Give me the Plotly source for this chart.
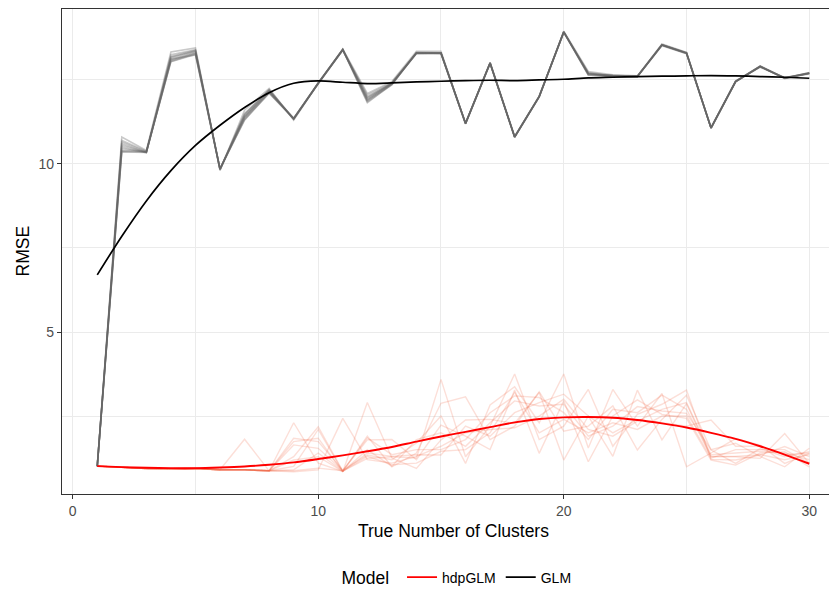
import plotly.graph_objects as go

x_clusters = list(range(1, 31))

# GLM runs (grey lines)
glm_runs = [
    [1.01,10.80,10.40,13.33,13.45,9.80,11.60,12.25,11.30,12.40,13.42,12.10,12.45,13.35,13.35,11.20,13.02,10.80,12.00,13.95,12.75,12.65,12.62,13.57,13.32,11.07,12.45,12.92,12.55,12.72],
    [1.01,10.70,10.38,13.25,13.40,9.85,11.50,12.20,11.35,12.42,13.40,12.00,12.40,13.30,13.30,11.22,13.00,10.82,12.02,13.92,12.70,12.62,12.60,13.55,13.30,11.08,12.47,12.90,12.57,12.70],
    [1.00,10.65,10.36,13.20,13.38,9.83,11.45,12.18,11.33,12.40,13.38,11.95,12.38,13.28,13.28,11.20,12.98,10.80,12.00,13.93,12.68,12.60,12.60,13.52,13.28,11.06,12.45,12.88,12.55,12.68],
    [1.01,10.60,10.34,13.15,13.35,9.86,11.40,12.15,11.36,12.38,13.40,11.90,12.36,13.30,13.30,11.21,13.01,10.81,12.01,13.91,12.66,12.61,12.59,13.54,13.30,11.07,12.44,12.90,12.54,12.70],
    [1.00,10.55,10.35,13.10,13.32,9.84,11.35,12.12,11.34,12.41,13.41,11.85,12.35,13.32,13.31,11.19,12.99,10.79,11.99,13.94,12.65,12.62,12.61,13.53,13.29,11.08,12.46,12.89,12.56,12.69],
    [1.01,10.50,10.33,13.08,13.30,9.85,11.32,12.10,11.35,12.39,13.39,11.82,12.37,13.29,13.29,11.20,13.00,10.80,12.00,13.92,12.64,12.60,12.60,13.55,13.31,11.07,12.45,12.91,12.55,12.71],
    [1.00,10.45,10.36,13.05,13.28,9.86,11.30,12.12,11.36,12.40,13.40,11.88,12.39,13.31,13.30,11.21,13.01,10.81,12.01,13.93,12.67,12.63,12.61,13.54,13.30,11.06,12.44,12.90,12.56,12.70],
    [1.01,10.40,10.37,13.04,13.26,9.84,11.38,12.16,11.34,12.41,13.41,11.92,12.41,13.30,13.31,11.20,13.00,10.80,12.00,13.92,12.69,12.61,12.60,13.53,13.29,11.07,12.45,12.89,12.55,12.69],
    [1.00,10.38,10.35,13.12,13.24,9.85,11.42,12.18,11.35,12.40,13.40,11.98,12.40,13.29,13.30,11.20,13.00,10.81,12.00,13.93,12.70,12.62,12.61,13.54,13.30,11.07,12.46,12.90,12.55,12.70],
    [1.01,10.36,10.34,13.18,13.36,9.83,11.48,12.22,11.33,12.39,13.39,12.05,12.42,13.31,13.29,11.21,13.01,10.80,12.01,13.92,12.72,12.63,12.60,13.55,13.31,11.08,12.45,12.91,12.56,12.71],
]

# hdpGLM runs (light red lines)
hdp_runs = [
    [1.01,0.97,0.94,0.93,0.94,0.90,1.81,0.87,1.29,2.18,0.86,1.24,1.29,1.25,3.59,1.29,2.20,3.75,1.80,2.20,3.29,1.60,2.55,2.85,3.27,1.21,1.19,1.34,1.59,1.29],
    [1.01,0.97,0.94,0.93,0.94,0.89,0.90,0.87,2.30,1.10,0.85,1.90,0.99,1.40,2.88,3.07,1.80,2.20,3.22,2.05,2.20,2.80,1.49,2.40,3.12,1.49,1.09,1.53,1.29,1.44],
    [1.01,0.97,0.94,0.93,0.94,0.90,0.90,0.87,1.84,1.74,0.89,1.34,1.20,1.70,2.50,1.09,2.83,3.37,2.30,3.75,1.55,3.29,2.20,3.17,0.99,1.40,1.83,1.63,1.09,1.39],
    [1.01,0.97,0.94,0.93,0.94,0.90,0.90,0.87,1.74,1.84,0.84,2.90,1.25,0.94,1.79,2.38,2.40,2.28,3.20,1.19,2.50,1.30,3.27,1.79,2.87,1.29,1.29,1.24,1.98,1.09],
    [1.01,0.97,0.94,0.93,0.94,0.90,0.90,0.87,1.64,1.54,0.88,1.79,1.80,1.20,2.23,1.90,1.50,3.27,1.39,2.95,1.14,2.50,2.98,2.55,2.43,1.19,1.04,1.40,1.44,0.99],
    [1.01,0.97,0.94,0.93,0.94,0.90,0.90,0.87,1.19,1.29,0.85,1.50,1.00,1.80,2.00,1.60,2.30,2.95,2.80,2.85,1.90,2.20,2.78,2.65,2.58,1.50,1.69,1.30,0.99,1.54],
    [1.01,0.97,0.94,0.93,0.94,0.90,0.90,0.87,0.84,0.90,2.43,1.20,1.10,1.30,1.60,2.00,2.10,2.15,2.50,3.00,2.10,1.90,2.35,2.70,2.90,1.35,1.40,1.45,1.40,1.20],
    [1.01,0.97,0.94,0.93,0.94,0.90,0.90,0.87,0.87,0.95,0.87,1.85,1.35,1.50,1.50,1.80,2.60,3.10,3.05,2.60,1.80,2.70,2.60,3.12,2.70,1.30,1.30,1.35,1.20,1.35],
    [1.01,0.97,0.94,0.93,0.94,0.90,0.90,0.87,0.90,1.40,0.86,1.30,1.05,1.10,1.45,1.50,2.00,3.20,2.00,2.40,2.00,2.30,2.10,2.50,2.50,1.25,1.50,1.50,1.50,1.10],
    [1.01,0.97,0.94,0.93,0.94,0.90,0.90,0.87,1.00,2.10,0.85,1.40,1.30,1.35,1.34,2.20,1.90,2.60,2.90,3.15,2.50,2.00,2.40,2.30,2.20,2.38,1.60,1.60,1.35,1.40],
]

# Smoothed fits
glm_smooth = [6.70,7.85,8.90,9.80,10.55,11.15,11.68,12.12,12.40,12.47,12.43,12.39,12.41,12.44,12.46,12.48,12.49,12.48,12.50,12.52,12.56,12.58,12.60,12.61,12.62,12.63,12.62,12.60,12.58,12.55]
hdp_smooth = [1.01,0.98,0.96,0.95,0.95,0.97,1.00,1.05,1.12,1.22,1.33,1.45,1.58,1.74,1.89,2.03,2.17,2.31,2.41,2.46,2.47,2.45,2.38,2.28,2.16,2.00,1.82,1.60,1.35,1.08]

x_ticks = [0, 10, 20, 30]
y_ticks = [5, 10]

# page body has an 8px margin; figure coordinates below are offset accordingly
PANEL_H = 485.0
PANEL_W = 775.0

def py(page_y):
    return (494 - page_y) / PANEL_H

def px(page_x):
    return (page_x - 62) / PANEL_W

fig = go.Figure()

for run in hdp_runs:
    fig.add_trace(go.Scatter(x=x_clusters, y=run, mode="lines",
                             line=dict(color="rgba(238,95,60,0.2)", width=1.4),
                             showlegend=False, hoverinfo="skip"))
for run in glm_runs:
    fig.add_trace(go.Scatter(x=x_clusters, y=run, mode="lines",
                             line=dict(color="rgba(100,100,100,0.35)", width=1.6),
                             showlegend=False, hoverinfo="skip"))

fig.add_trace(go.Scatter(x=x_clusters, y=hdp_smooth, mode="lines", name="hdpGLM",
                         line=dict(color="#FF0000", width=1.9, shape="spline", smoothing=0.8)))
fig.add_trace(go.Scatter(x=x_clusters, y=glm_smooth, mode="lines", name="GLM",
                         line=dict(color="#000000", width=1.7, shape="spline", smoothing=0.8)))

fig.update_layout(
    width=829, height=582,
    margin=dict(l=54, r=0, t=1, b=96, autoexpand=False),
    paper_bgcolor="white", plot_bgcolor="white",
    font=dict(family="Liberation Sans, Arial, sans-serif", color="#000000"),
    legend=dict(orientation="h", x=px(458), xanchor="center", y=py(578), yanchor="middle",
                title=dict(text="Model ", font=dict(size=17.5, color="#000000"), side="left"),
                font=dict(size=14, color="#000000"), itemwidth=30,
                bgcolor="rgba(0,0,0,0)"),
    xaxis=dict(range=[-0.436, 31.13], tickvals=x_ticks, ticktext=[str(v) for v in x_ticks],
               automargin=False,
               showgrid=True, gridcolor="#EBEBEB", gridwidth=1.1,
               minor=dict(tickvals=[5, 15, 25], showgrid=True, gridcolor="#EBEBEB", gridwidth=0.6, ticks=""),
               showline=True, linecolor="#333333", linewidth=1.1, mirror=True,
               ticks="outside", ticklen=4, tickcolor="#333333", tickwidth=1.1,
               tickfont=dict(size=14, color="#4D4D4D"), zeroline=False),
    yaxis=dict(range=[0.18, 14.61], tickvals=y_ticks, ticktext=[str(v) for v in y_ticks],
               automargin=False,
               showgrid=True, gridcolor="#EBEBEB", gridwidth=1.1,
               minor=dict(tickvals=[2.5, 7.5, 12.5], showgrid=True, gridcolor="#EBEBEB", gridwidth=0.6, ticks=""),
               showline=True, linecolor="#333333", linewidth=1.1, mirror=False,
               ticks="outside", ticklen=4, tickcolor="#333333", tickwidth=1.1,
               tickfont=dict(size=14, color="#4D4D4D"), zeroline=False),
    annotations=[
        dict(text="True Number of Clusters", xref="paper", yref="paper",
             x=px(453.5), y=py(531), xanchor="center", yanchor="middle",
             showarrow=False, font=dict(size=17.5, color="#000000")),
        dict(text="RMSE", xref="paper", yref="paper", textangle=-90,
             x=px(22), y=0.5, xanchor="center", yanchor="middle",
             showarrow=False, font=dict(size=17.5, color="#000000")),
    ],
)

fig.write_html("out.html")
